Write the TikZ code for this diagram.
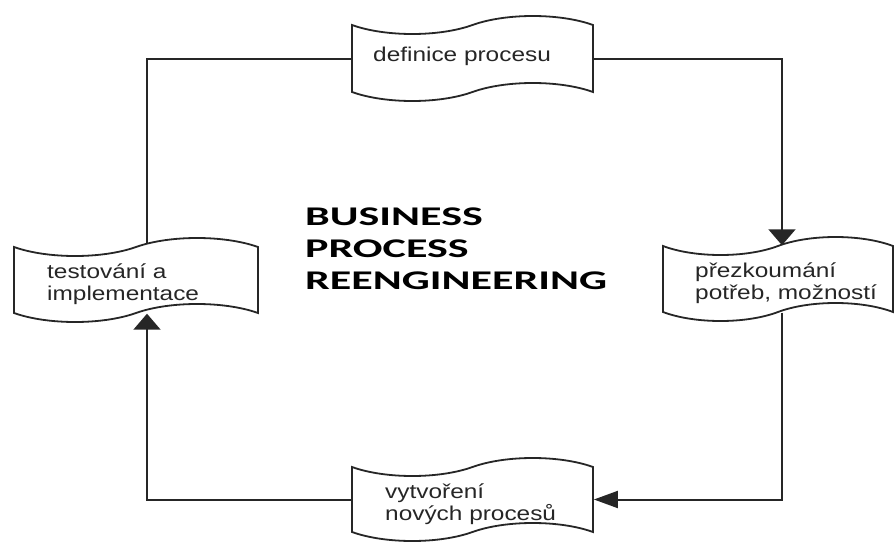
\documentclass[tikz,border=0pt]{standalone}
\usepackage{fontspec}
\setmainfont{Liberation Sans}[FakeStretch=1.22]
\newfontfamily\titlefont{Carlito}[FakeStretch=1.63]
\usetikzlibrary{shapes.symbols,arrows.meta}
\pgfdeclarelayer{bg}
\pgfsetlayers{bg,main}
\begin{document}
\begin{tikzpicture}[x=1pt,y=-1pt,
  tapebox/.style={draw=black!85, fill=white, shape=tape, tape bend top=in and out,
    tape bend bottom=in and out, tape bend height=18pt, inner sep=0pt, line width=1.8pt},
  txt/.style={anchor=west, align=left, inner sep=0pt, font=\fontsize{20}{22}\selectfont, text=black!85},
  conn/.style={draw=black!85, line width=2pt},
  varrow/.style={conn, -{Triangle[length=16pt,width=27pt]}},
  harrow/.style={conn, -{Triangle[length=24pt,width=17pt]}}]
\useasboundingbox (0,0) rectangle (895,546);
\coordinate (cl) at (147,0);
\coordinate (cr) at (782,0);
% tapes
\node[tapebox, minimum width=241pt, minimum height=85pt] (def) at (472.5,58.5) {};
\node[tapebox, minimum width=244pt, minimum height=84pt] (test) at (136,280) {};
\node[tapebox, minimum width=230pt, minimum height=84pt] (rev) at (778,279) {};
\node[tapebox, minimum width=241pt, minimum height=83pt] (new) at (472.5,499.5) {};
% texts
\node[txt] (tdef) at (373,56) {definice procesu};
\node[txt] (ttest) at (47,284) {testování a\\implementace};
\node[txt] (trev) at (695,283) {přezkoumání\\potřeb, možností};
\node[txt] (tnew) at (385,504) {vytvoření\\nových procesů};
\node[anchor=west, align=left, inner sep=0pt, font=\titlefont\bfseries\fontsize{27}{32}\selectfont] (title) at (305,249)
  {BUSINESS\\PROCESS\\REENGINEERING};
% connectors
\begin{pgfonlayer}{bg}
\draw[conn] (def.west) -| (cl |- test.north);
\draw[varrow] (def.east) -| (cr |- rev.north);
\draw[harrow] (cr |- rev.south) |- (new.east);
\draw[varrow] (new.west) -| (cl |- test.south);
\end{pgfonlayer}
\end{tikzpicture}
\end{document}
